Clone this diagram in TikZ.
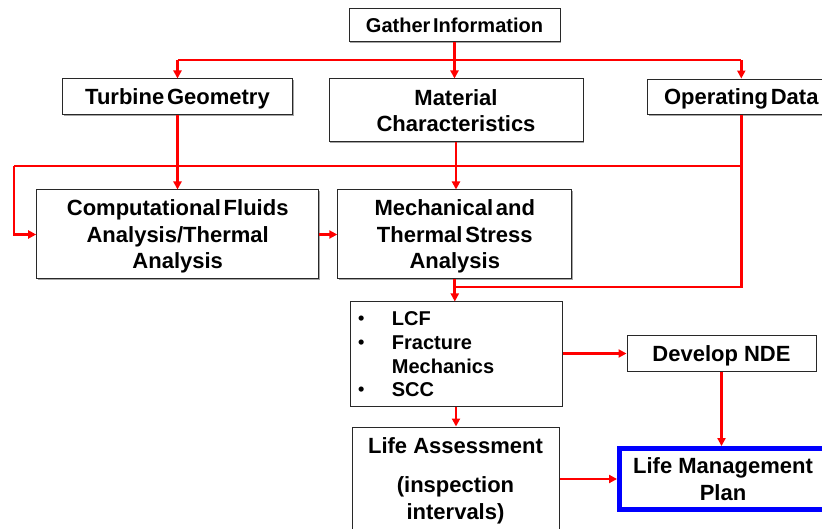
\documentclass[tikz,border=0pt]{standalone}
\usepackage{fontspec}
\setmainfont{Liberation Sans}
\usetikzlibrary{arrows.meta,shadows}
\definecolor{boxline}{RGB}{40,40,40}
\definecolor{pureRed}{RGB}{255,0,0}
\definecolor{pureBlue}{RGB}{0,0,255}
\newcommand{\mytightsp}{\spaceskip=0.13em plus 0.05em\relax}
\newcommand{\mybul}{\makebox[33.7pt][l]{\raisebox{1pt}{\fontsize{18}{20}\selectfont\textbullet}}}
\tikzset{
  box/.style={draw=boxline, line width=1pt, fill=white, inner sep=0pt, align=center, text depth=0pt,
    drop shadow={shadow xshift=1.2pt, shadow yshift=-1.2pt, fill=black!35, opacity=1}},
  bigtxt/.style={font=\bfseries\fontsize{22}{26.5}\selectfont},
  tighttxt/.style={font=\bfseries\fontsize{22}{26.5}\selectfont, execute at begin node=\mytightsp},
  smalltight/.style={font=\bfseries\fontsize{20}{24}\selectfont, execute at begin node=\mytightsp},
  rl/.style={draw=pureRed, line width=2.8pt, line join=miter},
  arr/.style={rl, -{Triangle[length=8pt,width=8pt]}},
}
\begin{document}
\begin{tikzpicture}[x=1pt,y=-1pt]
\useasboundingbox (0,0) rectangle (822,529);
\fill[white] (0,0) rectangle (822,529);

% helper coordinates
\coordinate (y60) at (0,60);
\coordinate (y166) at (0,166);
\coordinate (y287) at (0,287);
\coordinate (lc) at (14,166);

% boxes
\node[box, smalltight, minimum width=211pt, minimum height=33pt] (gather) at (454.5,25.5) {Gather Information};
\node[box, tighttxt, minimum width=230pt, minimum height=36pt] (tg) at (177.5,97) {Turbine Geometry};
\node[box, tighttxt, minimum width=254pt, minimum height=63pt] (mat) at (456,110.5) {Material\\Characteristics};
\node[box, tighttxt, minimum width=188pt, minimum height=35.5pt] (od) at (741.3,96.8) {Operating Data};
\node[box, tighttxt, minimum width=282pt, minimum height=89pt] (cfd) at (177.7,234.5) {Computational Fluids\\Analysis/Thermal\\Analysis};
\node[box, tighttxt, minimum width=234pt, minimum height=89pt] (mech) at (454.8,234.5) {Mechanical and\\Thermal Stress\\Analysis};
\node[box, minimum width=212pt, minimum height=104pt] (lcf) at (456,354) {};
\node[anchor=west, align=left, inner sep=0pt, font=\bfseries\fontsize{20}{23.6}\selectfont] (lcftext) at (358,354.5)
  {\mybul LCF\\
   \mybul Fracture\\
   \makebox[33.7pt][l]{}Mechanics\\
   \mybul SCC};
\node[box, bigtxt, minimum width=189pt, minimum height=35pt] (nde) at (721.5,353.5) {Develop NDE};
\node[box, bigtxt, minimum width=207pt, minimum height=103pt] (la) at (455.5,478.5) {Life Assessment\\[13pt](inspection\\intervals)};
\node[draw=pureBlue, line width=4.5pt, fill=white, inner sep=0pt, align=center, text depth=0pt, bigtxt,
  minimum width=207.4pt, minimum height=61.4pt] (lmp) at (723,479) {Life Management\\Plan};

% connectors
\draw[rl] (gather.south) -- (gather.south |- y60);
\draw[rl] (tg.north |- y60) -- (od.north |- y60);
\draw[arr] (tg.north |- y60) -- (tg.north);
\draw[arr] (gather.south |- y60) -- (gather.south |- mat.north);
\draw[arr] (od.north |- y60) -- (od.north);

\draw[arr] (tg.south) -- (tg.south |- cfd.north);
\draw[arr] (mat.south) -- (mat.south |- mech.north);
\draw[rl] (od.south) -- (od.south |- y287) -- (mech.south |- y287);
\draw[rl] (od.south |- y166) -- (lc);
\draw[arr] (lc) -- (lc |- cfd.west) -- (cfd.west);
\draw[arr] (cfd.east) -- (cfd.east -| mech.west);
\draw[arr] (mech.south) -- (mech.south |- lcf.north);
\draw[arr] (lcf.east |- nde.west) -- (nde.west);
\draw[arr] (lcf.south) -- (lcf.south |- la.north);
\draw[arr] (nde.south) -- (nde.south |- lmp.north);
\draw[arr] (la.east |- lmp.west) -- (lmp.west);
\end{tikzpicture}
\end{document}
